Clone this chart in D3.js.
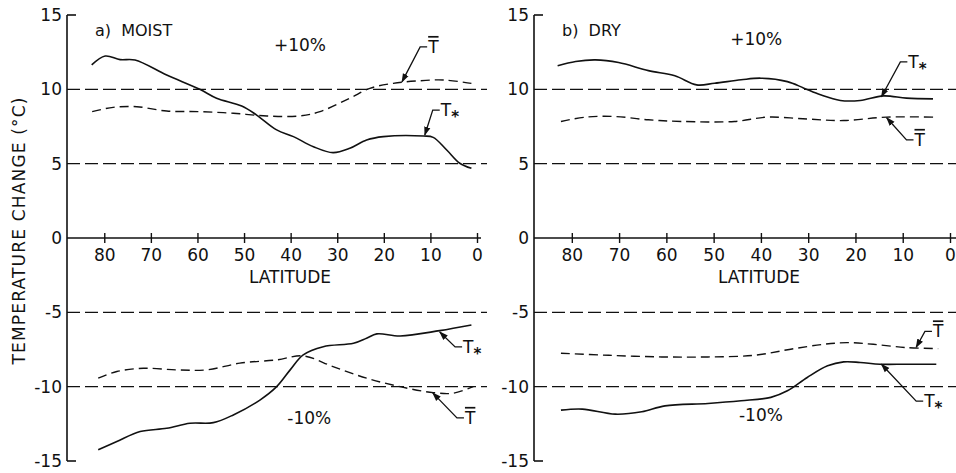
<!DOCTYPE html>
<html>
<head>
<meta charset="utf-8">
<script src="https://cdn.jsdelivr.net/npm/d3@7"></script>
<style>
  body { margin: 0; background: #fff; }
  svg text { font-family: "DejaVu Sans", sans-serif; fill: #111; }
</style>
</head>
<body>
<div class="canvas"></div>
<script>
const W = 956, H = 473;

const latTicks = [80, 70, 60, 50, 40, 30, 20, 10, 0];
const yTicks = [15, 10, 5, 0, -5, -10, -15];
const refLevels = [10, 5, -5, -10];

// [latitude, temperature change]
const moistPlusTstar = [[82.7,11.64],[79.8,12.24],[76.6,12.0],[73.4,11.97],[66.6,10.96],[59.5,10.0],[55.9,9.4],[50.5,8.88],[47.3,8.27],[43,7.27],[39.4,6.82],[35.1,6.14],[30.9,5.74],[27.3,6.03],[23.7,6.59],[20.1,6.82],[11.5,6.86],[9.4,6.77],[6.5,5.92],[3.7,5.03],[1.2,4.69]];
const moistPlusTbar = [[82.6,8.5],[78.1,8.79],[73.0,8.83],[66.6,8.54],[59.5,8.5],[52.3,8.39],[45.1,8.21],[38.0,8.21],[33.7,8.5],[27.3,9.4],[23.0,10.07],[18.0,10.4],[13.0,10.56],[7.2,10.63],[1.2,10.4]];
const moistMinusTstar = [[81.3,-14.25],[77.3,-13.69],[72.3,-13.02],[66.6,-12.8],[61.6,-12.46],[56.6,-12.42],[52.3,-11.9],[46.6,-10.9],[43.0,-10.0],[40.1,-8.87],[37.3,-7.86],[33.0,-7.31],[26.5,-7.08],[23.7,-6.74],[21.5,-6.45],[16.5,-6.59],[8.0,-6.23],[1.2,-5.85]];
const moistMinusTbar = [[81.3,-9.43],[77.3,-8.98],[71.6,-8.76],[64.5,-8.87],[58.0,-8.87],[50.9,-8.42],[43.0,-8.2],[37.3,-7.93],[30.9,-8.65],[23.7,-9.43],[16.5,-10.0],[9.4,-10.4],[5.1,-10.44],[0.8,-10.0]];

const dryPlusTstar = [[83.0,11.58],[79.2,11.87],[75.0,11.98],[70.1,11.8],[63.8,11.26],[58.2,10.91],[53.6,10.3],[49.8,10.41],[44.2,10.64],[40.0,10.75],[34.4,10.52],[30.9,10.08],[27.4,9.63],[23.2,9.25],[19.0,9.25],[14.1,9.56],[9.2,9.41],[3.6,9.36]];
const dryPlusTbar = [[82.3,7.84],[77.1,8.13],[70.8,8.17],[63.8,7.95],[56.8,7.84],[45.6,7.84],[38.6,8.13],[30.2,8.0],[22.5,7.9],[13.4,8.13],[2.9,8.13]];
const dryMinusTstar = [[82.3,-11.58],[77.8,-11.51],[70.8,-11.85],[65.2,-11.69],[60.3,-11.29],[51.2,-11.13],[44.2,-10.95],[37.9,-10.72],[34.4,-10.28],[30.2,-9.38],[25.9,-8.6],[22.5,-8.33],[19.0,-8.37],[14.8,-8.49],[9.2,-8.49],[2.9,-8.49]];
const dryMinusTbar = [[82.3,-7.75],[72.2,-7.89],[61.0,-8.0],[51.2,-8.0],[41.4,-7.89],[33.7,-7.48],[26.7,-7.15],[21.8,-7.04],[16.2,-7.15],[9.2,-7.37],[2.5,-7.44]];

// leader annotations: tip [lat,val] -> knee [lat,val], then label
const moistNotes = [
  {tip: [16.1, 10.5], knee: [12.2, 12.85], label: 'bar'},
  {tip: [11.2, 6.93], knee: [9.5, 8.6], label: 'star'},
  {tip: [8.0, -6.32], knee: [4.7, -7.33], label: 'star'},
  {tip: [9.5, -10.42], knee: [4.3, -12.1], label: 'bar'}
];
const dryNotes = [
  {tip: [14.5, 9.5], knee: [10.5, 11.85], label: 'star'},
  {tip: [13.4, 8.09], knee: [9.2, 6.6], label: 'bar'},
  {tip: [7.15, -7.35], knee: [5.3, -6.28], label: 'bar'},
  {tip: [14.5, -8.49], knee: [7.15, -10.97], label: 'star'}
];

const panels = [
  {title: 'a)  MOIST', x0: 67, x1: 477, axisEnd: 481, refEnd: 487,
   star: [moistPlusTstar, moistMinusTstar], bar: [moistPlusTbar, moistMinusTbar],
   notes: moistNotes, plusAt: [38, 12.6], minusAt: [36, -12.5], latLabelAt: 290},
  {title: 'b)  DRY', x0: 534, x1: 950, axisEnd: 956, refEnd: 956,
   star: [dryPlusTstar, dryMinusTstar], bar: [dryPlusTbar, dryMinusTbar],
   notes: dryNotes, plusAt: [41, 13.0], minusAt: [40, -12.3], latLabelAt: 759}
];

const svg = d3.select('.canvas').append('svg')
  .attr('width', W).attr('height', H);

svg.append('defs').append('marker')
  .attr('id', 'arr').attr('viewBox', '0 0 10 10')
  .attr('refX', 9).attr('refY', 5)
  .attr('markerWidth', 7).attr('markerHeight', 7)
  .attr('orient', 'auto-start-reverse')
  .append('path').attr('d', 'M0,1.5 L10,5 L0,8.5 Z').attr('fill', '#111');

const y = d3.scaleLinear().domain([-15, 15]).range([461, 15]);

// y-axis title
svg.append('text')
  .attr('transform', 'translate(25,231) rotate(-90)')
  .attr('text-anchor', 'middle')
  .attr('font-size', 17)
  .attr('textLength', 267).attr('lengthAdjust', 'spacing')
  .text('TEMPERATURE CHANGE (°C)');

panels.forEach(p => {
  const x = d3.scaleLinear().domain([88, 0]).range([p.x0, p.x1]);
  const g = svg.append('g');

  // reference dashed lines
  g.selectAll('.ref').data(refLevels).enter().append('line')
    .attr('x1', p.x0).attr('x2', p.refEnd)
    .attr('y1', d => y(d)).attr('y2', d => y(d))
    .attr('stroke', '#111').attr('stroke-width', 1.3)
    .attr('stroke-dasharray', '13,5');

  // y axis
  g.append('line')
    .attr('x1', p.x0).attr('x2', p.x0)
    .attr('y1', y(15)).attr('y2', y(-15))
    .attr('stroke', '#111').attr('stroke-width', 1.6);
  g.selectAll('.endtick').data([15, -15]).enter().append('line')
    .attr('x1', p.x0).attr('x2', p.x0 + 9)
    .attr('y1', d => y(d)).attr('y2', d => y(d))
    .attr('stroke', '#111').attr('stroke-width', 1.6);

  const yAxis = g.append('g')
    .attr('transform', `translate(${p.x0},0)`)
    .call(d3.axisLeft(y).tickValues(yTicks).tickSize(0).tickPadding(5)
      .tickFormat(d => String(d)));
  yAxis.select('.domain').remove();
  yAxis.selectAll('text').attr('font-size', 17).attr('font-family', 'DejaVu Sans');

  // x axis at zero
  g.append('line')
    .attr('x1', p.x0).attr('x2', p.axisEnd)
    .attr('y1', y(0)).attr('y2', y(0))
    .attr('stroke', '#111').attr('stroke-width', 1.6);
  const xAxis = g.append('g')
    .attr('transform', `translate(0,${y(0)})`)
    .call(d3.axisBottom(x).tickValues(latTicks).tickSize(0).tickPadding(11));
  xAxis.select('.domain').remove();
  xAxis.selectAll('.tick line').attr('y1', -5).attr('y2', 5)
    .attr('stroke', '#111').attr('stroke-width', 1.4);
  xAxis.selectAll('text').attr('font-size', 17).attr('font-family', 'DejaVu Sans');

  g.append('text')
    .attr('x', p.latLabelAt).attr('y', 283)
    .attr('text-anchor', 'middle').attr('font-size', 17)
    .text('LATITUDE');

  // panel title
  g.append('text')
    .attr('x', p.x0 + 28).attr('y', 36)
    .attr('font-size', 16).attr('xml:space', 'preserve')
    .text(p.title);

  g.append('text')
    .attr('x', x(p.plusAt[0])).attr('y', y(p.plusAt[1]))
    .attr('text-anchor', 'middle').attr('font-size', 17)
    .text('+10%');
  g.append('text')
    .attr('x', x(p.minusAt[0])).attr('y', y(p.minusAt[1]))
    .attr('text-anchor', 'middle').attr('font-size', 17)
    .text('-10%');

  const line = d3.line()
    .x(d => x(d[0])).y(d => y(d[1]))
    .curve(d3.curveCatmullRom.alpha(0.5));

  g.selectAll('.star').data(p.star).enter().append('path')
    .attr('d', line).attr('fill', 'none')
    .attr('stroke', '#111').attr('stroke-width', 1.6);

  g.selectAll('.bar').data(p.bar).enter().append('path')
    .attr('d', line).attr('fill', 'none')
    .attr('stroke', '#111').attr('stroke-width', 1.4)
    .attr('stroke-dasharray', '9,5');

  // leader annotations
  p.notes.forEach(n => {
    const kx = x(n.knee[0]), ky = y(n.knee[1]);
    g.append('path')
      .attr('d', `M${kx + 7},${ky} L${kx},${ky} L${x(n.tip[0])},${y(n.tip[1])}`)
      .attr('fill', 'none').attr('stroke', '#111').attr('stroke-width', 1.3)
      .attr('marker-end', 'url(#arr)');
    const t = g.append('text')
      .attr('x', kx + 8).attr('y', ky + 6)
      .attr('font-size', 17);
    if (n.label === 'bar') {
      t.append('tspan').text('T').style('text-decoration', 'overline');
    } else {
      t.append('tspan').text('T');
      t.append('tspan').attr('dy', 6).attr('font-weight', 'bold')
        .attr('font-size', 15).text('*');
    }
  });
});
</script>
</body>
</html>
